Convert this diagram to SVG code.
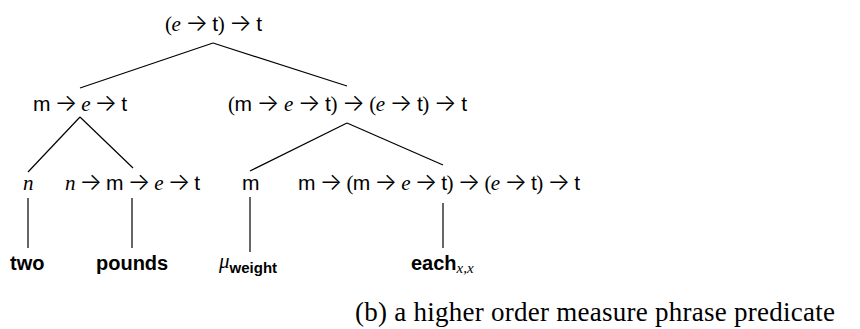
<svg xmlns="http://www.w3.org/2000/svg" width="860" height="329" viewBox="0 0 860 329">
<style>
.t{font-family:"Liberation Serif",serif;font-size:21px;fill:#000}
.s{font-family:"Liberation Sans",sans-serif}
.i{font-style:italic}
.a{font-family:Inter,"DejaVu Sans",sans-serif;font-weight:300;font-size:24px}
.w{font-family:"Liberation Sans",sans-serif;font-weight:bold;font-size:20px;fill:#000}
.sub{font-family:"Liberation Sans",sans-serif;font-weight:bold;font-size:15px}
.xs{font-family:"Liberation Serif",serif;font-style:italic;font-weight:normal;font-size:15px}
.cap{font-family:"Liberation Serif",serif;font-size:27px;fill:#000}
line{stroke:#000;stroke-width:1.2}
</style>
<g id="connectors">
<line x1="213" y1="43" x2="80" y2="88"/>
<line x1="213" y1="43" x2="347" y2="86"/>
<line x1="80" y1="117" x2="28" y2="172"/>
<line x1="80" y1="117" x2="133" y2="168"/>
<line x1="347" y1="123" x2="250" y2="171"/>
<line x1="347" y1="123" x2="443" y2="165"/>
<line x1="28" y1="198" x2="28" y2="248"/>
<line x1="132" y1="198" x2="132" y2="248"/>
<line x1="250" y1="197" x2="250" y2="252"/>
<line x1="443" y1="203" x2="443" y2="248"/>
</g>
<g id="root"><text class="t" x="165" y="31" textLength="97" lengthAdjust="spacing">(<tspan class="i">e</tspan> <tspan class="a">→</tspan> <tspan class="s">t</tspan>) <tspan class="a">→</tspan> <tspan class="s">t</tspan></text></g>
<g id="n1"><text class="t" x="33" y="111" textLength="94" lengthAdjust="spacing"><tspan class="s">m</tspan> <tspan class="a">→</tspan> <tspan class="i">e</tspan> <tspan class="a">→</tspan> <tspan class="s">t</tspan></text></g>
<g id="n2"><text class="t" x="228" y="111" textLength="239" lengthAdjust="spacing">(<tspan class="s">m</tspan> <tspan class="a">→</tspan> <tspan class="i">e</tspan> <tspan class="a">→</tspan> <tspan class="s">t</tspan>) <tspan class="a">→</tspan> (<tspan class="i">e</tspan> <tspan class="a">→</tspan> <tspan class="s">t</tspan>) <tspan class="a">→</tspan> <tspan class="s">t</tspan></text></g>
<g id="n3"><text class="t" x="23" y="190"><tspan class="i">n</tspan></text></g>
<g id="n4"><text class="t" x="65" y="190" textLength="135" lengthAdjust="spacing"><tspan class="i">n</tspan> <tspan class="a">→</tspan> <tspan class="s">m</tspan> <tspan class="a">→</tspan> <tspan class="i">e</tspan> <tspan class="a">→</tspan> <tspan class="s">t</tspan></text></g>
<g id="n5"><text class="t" x="242" y="190"><tspan class="s">m</tspan></text></g>
<g id="n6"><text class="t" x="298" y="190" textLength="282" lengthAdjust="spacing"><tspan class="s">m</tspan> <tspan class="a">→</tspan> (<tspan class="s">m</tspan> <tspan class="a">→</tspan> <tspan class="i">e</tspan> <tspan class="a">→</tspan> <tspan class="s">t</tspan>) <tspan class="a">→</tspan> (<tspan class="i">e</tspan> <tspan class="a">→</tspan> <tspan class="s">t</tspan>) <tspan class="a">→</tspan> <tspan class="s">t</tspan></text></g>
<g id="w1"><text class="w" x="10" y="270">two</text></g>
<g id="w2"><text class="w" x="96" y="270">pounds</text></g>
<g id="w3"><text class="t" x="219" y="268"><tspan class="i">μ</tspan><tspan class="sub" dy="5">weight</tspan></text></g>
<g id="w4"><text class="w" x="411" y="270">each<tspan class="xs" dy="3">x,x</tspan></text></g>
<text class="cap" x="355" y="321" textLength="480" lengthAdjust="spacing">(b) a higher order measure phrase predicate</text>
</svg>
